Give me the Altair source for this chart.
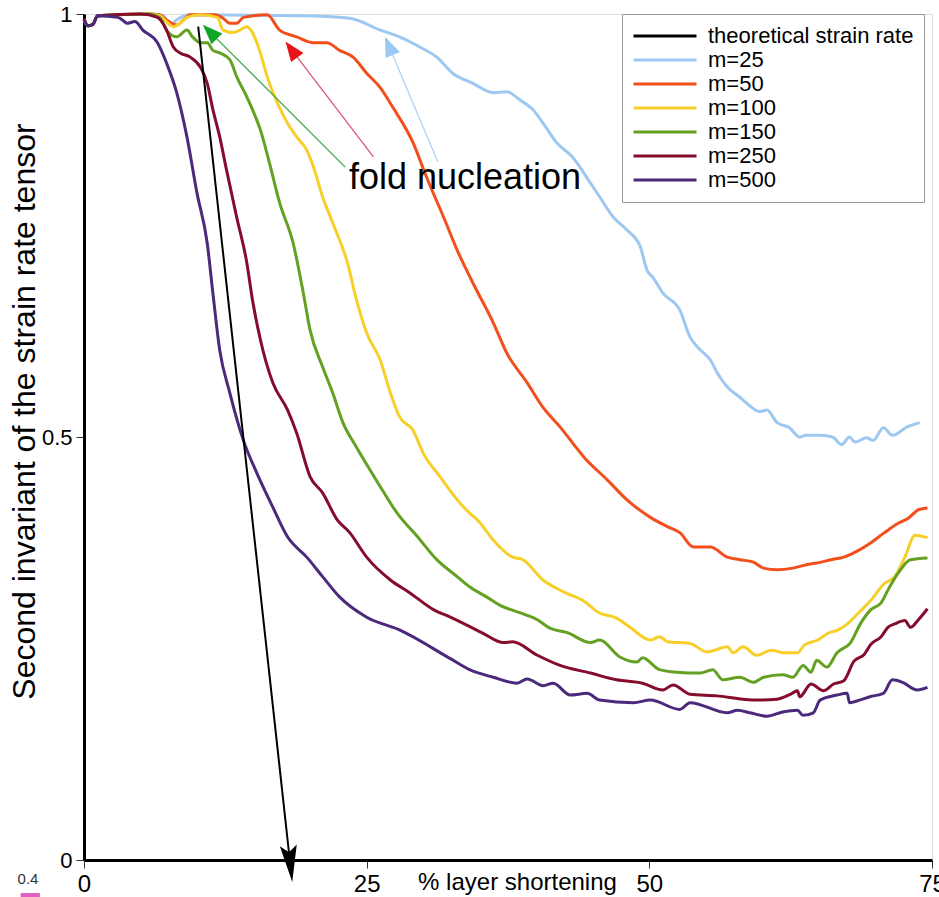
import altair as alt
import pandas as pd

# ---------------- data ----------------
series_names = ["theoretical strain rate", "m=25", "m=50", "m=100", "m=150", "m=250", "m=500"]
series_colors = ["#000000", "#9dc8f2", "#f24f1d", "#f7cf2b", "#64a022", "#850c2c", "#4b2a7b"]

theo_x = [10.1, 18.2]
theo_y = [0.985, 0.0]

m25_x = [0, 0.35, 0.8, 1.2, 5.8, 7.0, 7.6, 8.3, 9.4, 19.1, 23.5, 26.2, 27.9, 29.7, 31.2, 32.6, 34.4, 36.2,
         37.4, 38.6, 39.7, 40.6, 41.8, 43.2, 44.8, 45.6, 46.8, 48.0, 49.2, 49.8, 50.3, 51.2, 52.7, 53.6,
         54.5, 55.4, 56.0, 56.9, 58.0, 58.6, 59.8, 60.4, 61.3, 62.4, 63.3, 63.9, 65.1, 66.2, 67.0, 67.7,
         68.2, 69.2, 69.8, 70.7, 71.5, 72.8, 73.9]
m25_y = [0.993, 0.986, 0.988, 0.998, 1.0, 0.998, 0.987, 0.994, 0.999, 0.998, 0.995, 0.981, 0.973, 0.961,
         0.949, 0.930, 0.918, 0.907, 0.908, 0.898, 0.887, 0.871, 0.848, 0.831, 0.800, 0.784, 0.760, 0.745,
         0.725, 0.697, 0.689, 0.670, 0.650, 0.618, 0.603, 0.591, 0.576, 0.559, 0.547, 0.540, 0.530, 0.532,
         0.517, 0.511, 0.500, 0.502, 0.502, 0.500, 0.491, 0.500, 0.494, 0.499, 0.496, 0.511, 0.502, 0.512,
         0.517]

m50_x = [0, 0.35, 0.8, 1.2, 5.8, 6.7, 7.3, 8.2, 8.8, 9.4, 11.6, 12.3, 12.9, 13.5, 14.1, 16.2, 17.3, 18.8,
         20.3, 21.5, 22.6, 23.8, 25.0, 26.2, 27.3, 29.1, 30.3, 31.8, 33.0, 34.4, 36.2, 37.4, 39.2, 40.6,
         42.1, 44.3, 46.3, 48.0, 50.1, 51.6, 52.7, 53.9, 55.4, 56.9, 58.0, 59.2, 60.1, 61.3, 62.7, 63.9,
         64.8, 66.1, 67.2, 68.5, 69.6, 70.8, 72.0, 72.9, 73.8, 74.6]
m50_y = [0.993, 0.986, 0.988, 0.998, 1.0, 0.999, 0.993, 0.987, 0.993, 0.999, 0.999, 0.995, 0.989, 0.989,
         0.996, 0.999, 0.981, 0.973, 0.966, 0.966, 0.957, 0.949, 0.930, 0.913, 0.890, 0.848, 0.807, 0.760,
         0.721, 0.682, 0.635, 0.599, 0.564, 0.535, 0.512, 0.475, 0.449, 0.426, 0.405, 0.394, 0.387, 0.370,
         0.370, 0.358, 0.355, 0.352, 0.345, 0.343, 0.345, 0.349, 0.351, 0.355, 0.358, 0.366, 0.375, 0.387,
         0.398, 0.404, 0.414, 0.416]

m100_x = [0, 0.35, 0.8, 1.2, 5.8, 6.7, 7.3, 7.9, 8.5, 9.1, 10.3, 11.8, 12.3, 13.2, 13.8, 14.4, 14.9, 15.6,
          16.2, 17.1, 18.0, 18.8, 19.7, 20.3, 21.1, 22.0, 23.3, 24.1, 25.0, 26.2, 27.1, 27.9, 29.1, 30.0,
          31.5, 33.0, 34.1, 34.8, 36.2, 37.9, 38.8, 40.6, 42.4, 44.1, 45.6, 47.1, 48.3, 50.1, 50.9, 51.6,
          53.6, 55.1, 56.9, 57.4, 58.3, 59.5, 60.8, 61.9, 63.1, 63.7, 64.9, 65.8, 66.7, 67.6, 68.5, 69.6,
          70.8, 71.7, 72.6, 73.5, 74.6]
m100_y = [0.993, 0.986, 0.988, 0.998, 1.0, 0.998, 0.991, 0.985, 0.989, 0.996, 0.999, 0.996, 0.981, 0.978,
          0.981, 0.985, 0.978, 0.954, 0.926, 0.895, 0.871, 0.855, 0.839, 0.819, 0.784, 0.753, 0.706, 0.662,
          0.623, 0.591, 0.552, 0.524, 0.508, 0.481, 0.453, 0.426, 0.410, 0.402, 0.378, 0.358, 0.355, 0.331,
          0.317, 0.307, 0.292, 0.286, 0.275, 0.260, 0.264, 0.258, 0.256, 0.246, 0.252, 0.245, 0.252, 0.242,
          0.248, 0.245, 0.245, 0.254, 0.260, 0.268, 0.272, 0.280, 0.292, 0.307, 0.327, 0.335, 0.358, 0.384,
          0.381]

m150_x = [0, 0.35, 0.8, 1.2, 5.8, 6.7, 7.4, 8.2, 9.1, 9.6, 10.3, 10.9, 11.4, 12.0, 12.9, 13.5, 14.4, 14.9,
          15.6, 16.4, 17.3, 18.5, 19.4, 20.0, 21.1, 22.0, 22.9, 24.1, 25.3, 26.4, 27.7, 29.5, 31.2, 33.0,
          34.1, 35.6, 36.8, 38.6, 40.1, 41.2, 42.7, 44.8, 45.6, 47.4, 48.9, 49.4, 50.9, 52.4, 54.5, 55.6,
          56.5, 58.0, 59.2, 60.1, 61.8, 62.7, 63.6, 64.3, 64.8, 65.7, 66.6, 67.8, 68.7, 69.6, 70.5, 71.1,
          72.0, 73.1, 74.6]
m150_y = [0.993, 0.986, 0.988, 0.998, 1.0, 0.996, 0.979, 0.973, 0.981, 0.973, 0.966, 0.966, 0.957, 0.954,
          0.946, 0.926, 0.902, 0.887, 0.863, 0.824, 0.777, 0.729, 0.670, 0.626, 0.583, 0.552, 0.517, 0.488,
          0.461, 0.437, 0.410, 0.382, 0.355, 0.335, 0.323, 0.311, 0.301, 0.292, 0.284, 0.274, 0.269, 0.257,
          0.260, 0.240, 0.234, 0.239, 0.225, 0.222, 0.221, 0.225, 0.213, 0.216, 0.210, 0.216, 0.219, 0.216,
          0.230, 0.222, 0.236, 0.228, 0.245, 0.257, 0.280, 0.296, 0.304, 0.319, 0.339, 0.355, 0.357]

m250_x = [0, 0.35, 0.8, 1.2, 5.0, 6.5, 7.3, 7.9, 8.5, 9.4, 10.3, 10.9, 11.4, 12.0, 12.6, 13.5, 14.4, 14.9,
          15.6, 16.7, 18.0, 18.8, 20.0, 21.1, 22.4, 23.5, 25.0, 27.1, 28.8, 30.9, 32.4, 33.5, 35.3, 37.1,
          37.9, 40.1, 42.1, 44.8, 47.1, 49.4, 51.2, 52.1, 53.6, 56.0, 58.3, 59.5, 61.3, 62.5, 63.1, 63.3,
          64.3, 65.4, 66.3, 67.2, 68.1, 69.0, 69.6, 70.5, 71.1, 71.7, 72.6, 73.1, 73.8, 74.6]
m250_y = [0.995, 0.986, 0.988, 0.998, 1.0, 0.996, 0.981, 0.961, 0.954, 0.949, 0.937, 0.918, 0.887, 0.855,
          0.816, 0.760, 0.706, 0.662, 0.615, 0.564, 0.532, 0.505, 0.453, 0.434, 0.402, 0.387, 0.358, 0.331,
          0.316, 0.296, 0.287, 0.280, 0.268, 0.257, 0.258, 0.242, 0.230, 0.221, 0.213, 0.209, 0.201, 0.207,
          0.196, 0.194, 0.190, 0.189, 0.190, 0.196, 0.200, 0.193, 0.208, 0.200, 0.208, 0.212, 0.235, 0.243,
          0.255, 0.264, 0.275, 0.279, 0.283, 0.275, 0.284, 0.297]

m500_x = [0, 0.35, 0.8, 1.2, 3.0, 3.4, 3.8, 4.5, 5.2, 6.5, 7.3, 8.2, 9.1, 10.0, 10.9, 11.4, 12.0, 12.9,
          14.1, 15.3, 16.7, 18.0, 19.7, 21.1, 22.6, 25.0, 27.9, 32.4, 34.1, 36.2, 38.3, 39.2, 40.6, 41.5,
          43.0, 44.5, 45.6, 48.6, 50.1, 52.7, 53.6, 56.9, 57.8, 58.9, 60.4, 61.8, 63.1, 63.6, 64.5, 65.1,
          66.6, 67.5, 67.7, 68.6, 69.5, 70.7, 71.5, 72.4, 73.7, 74.6]
m500_y = [0.993, 0.986, 0.988, 0.998, 0.996, 0.993, 0.989, 0.991, 0.981, 0.966, 0.942, 0.907, 0.855, 0.788,
          0.729, 0.670, 0.603, 0.552, 0.496, 0.457, 0.417, 0.382, 0.358, 0.335, 0.311, 0.287, 0.272, 0.238,
          0.225, 0.216, 0.209, 0.214, 0.206, 0.209, 0.195, 0.197, 0.189, 0.186, 0.189, 0.178, 0.186, 0.174,
          0.177, 0.174, 0.170, 0.175, 0.177, 0.171, 0.174, 0.189, 0.195, 0.197, 0.186, 0.189, 0.193, 0.197,
          0.213, 0.210, 0.201, 0.204]

# annotation arrows ("fold nucleation"): start -> head, head angle, colours
arrow_x = [23.1, 25.6, 31.3, 10.1]
arrow_y = [0.819, 0.831, 0.825, 0.985]
arrow_x2 = [11.2, 18.4, 27.0, 18.2]
arrow_y2 = [0.978, 0.957, 0.961, 0.001]
arrow_angle = [315, 323.6, 337, 173.8]
arrow_line_color = ["#3aa040", "#d8506a", "#a9d0f5", "#000000"]
arrow_head_color = ["#12a52a", "#e8141c", "#9cc9f2", "#000000"]
arrow_head_shape = ["M0,-1L0.7,0.8L-0.7,0.8Z", "M0,-1L0.7,0.8L-0.7,0.8Z",
                    "M0,-1L0.7,0.8L-0.7,0.8Z", "M0,-1L0.37,0.6L0,0.3L-0.37,0.6Z"]
arrow_head_size = [484, 484, 484, 2116]
arrow_line_width = [1.2, 1.2, 1.2, 0.1]

annot_text = ["fold nucleation"]
annot_x = [33.7]
annot_y = [0.806]

# ---------------- tables ----------------
curve_sets = [("m=25", m25_x, m25_y), ("m=50", m50_x, m50_y), ("m=100", m100_x, m100_y),
              ("m=150", m150_x, m150_y), ("m=250", m250_x, m250_y), ("m=500", m500_x, m500_y)]
rows = []
for name, xs_, ys_ in curve_sets:
    for i, (a, b) in enumerate(zip(xs_, ys_)):
        rows.append({"series": name, "x": a, "y": b, "order": i})
curves = pd.DataFrame(rows)
theo = pd.DataFrame({"series": series_names[0], "x": theo_x, "y": theo_y, "order": [0, 1]})
arrows = pd.DataFrame({"x": arrow_x, "y": arrow_y, "x2": arrow_x2, "y2": arrow_y2,
                       "angle": arrow_angle, "lc": arrow_line_color, "hc": arrow_head_color,
                       "shape": arrow_head_shape, "size": arrow_head_size, "lw": arrow_line_width})
annots = pd.DataFrame({"t": annot_text, "x": annot_x, "y": annot_y})
stray = pd.DataFrame({"t": ["0.4"], "x": [-4.95], "y": [-0.022], "x1": [-5.6], "x2": [-3.9], "yb": [-0.042]})

FONT = "Liberation Sans"
xs = alt.Scale(domain=[0, 75], nice=False, zero=False)
ys = alt.Scale(domain=[0, 1], nice=False, zero=False)

X = alt.X("x:Q", scale=xs, axis=alt.Axis(
    values=[0, 25, 50, 75], title="% layer shortening", labelFontSize=24, labelFont=FONT,
    labelFlush=False, labelOverlap=False, tickSize=8, tickColor="#333", tickWidth=1, labelPadding=4,
    titleFontSize=24, titleFont=FONT, titleFontWeight="normal", titleX=433, titleY=22,
    titleBaseline="middle", titleAlign="center", domainColor="black", domainWidth=3, grid=False,
    labelColor="black", titleColor="black"))
Y = alt.Y("y:Q", scale=ys, axis=alt.Axis(
    values=[0, 0.5, 1], format="~g", title="Second invariant  of the strain rate tensor",
    labelFontSize=22, labelFont=FONT, tickSize=8, tickColor="#333", tickWidth=1, labelPadding=4,
    titleFontSize=32, titleFont=FONT, titleFontWeight="normal", titleAngle=270, titleX=-60, titleY=397,
    titleAlign="center", titleBaseline="middle", domainColor="black", domainWidth=3, grid=False,
    labelColor="black", titleColor="black"))

color = alt.Color("series:N", scale=alt.Scale(domain=series_names, range=series_colors),
                  legend=alt.Legend(orient="none", legendX=538, legendY=0, direction="vertical", title=None,
                                    symbolType="stroke", symbolSize=3969, symbolStrokeWidth=3,
                                    clipHeight=24, rowPadding=0, labelFontSize=22, labelFont=FONT,
                                    labelColor="black", labelOffset=10, padding=10, strokeColor="#999",
                                    fillColor="white", labelLimit=500, symbolOpacity=1))

lines = alt.Chart(curves).mark_line(strokeWidth=3, interpolate="monotone").encode(
    x=X, y=Y, color=color, order="order:Q")
theo_line = alt.Chart(theo).mark_line(strokeWidth=2).encode(x=X, y=Y, color=color, order="order:Q")

arrow_lines = alt.Chart(arrows).mark_rule().encode(
    x=alt.X("x:Q", scale=xs), y=alt.Y("y:Q", scale=ys), x2="x2:Q", y2="y2:Q",
    stroke=alt.Stroke("lc:N", scale=None, legend=None),
    strokeWidth=alt.StrokeWidth("lw:Q", scale=None, legend=None))
arrow_heads = alt.Chart(arrows).mark_point(filled=True, opacity=1, strokeWidth=0).encode(
    x=alt.X("x2:Q", scale=xs), y=alt.Y("y2:Q", scale=ys),
    fill=alt.Fill("hc:N", scale=None, legend=None),
    shape=alt.Shape("shape:N", scale=None, legend=None),
    size=alt.Size("size:Q", scale=None, legend=None),
    angle=alt.Angle("angle:Q", scale=None))

text = alt.Chart(annots).mark_text(fontSize=36, font=FONT, color="black", align="center",
                                   baseline="middle").encode(
    x=alt.X("x:Q", scale=xs), y=alt.Y("y:Q", scale=ys), text="t:N")

stray_t = alt.Chart(stray).mark_text(fontSize=15, font=FONT, color="#333", align="center",
                                     baseline="middle").encode(
    x=alt.X("x:Q", scale=xs), y=alt.Y("y:Q", scale=ys), text="t:N")
stray_b = alt.Chart(stray).mark_rule(strokeWidth=5, color="#e060c0").encode(
    x=alt.X("x1:Q", scale=xs), x2="x2:Q", y=alt.Y("yb:Q", scale=ys))

chart = alt.layer(lines, theo_line, arrow_lines, arrow_heads, text, stray_t, stray_b).properties(
    width=848, height=846,
    padding={"left": 84, "top": 14, "right": 7, "bottom": 37},
    autosize=alt.AutoSizeParams(type="none"),
).configure_view(stroke="black", strokeWidth=3).configure(background="white")

chart.save("out.html", embed_options={"renderer": "svg", "actions": False})
